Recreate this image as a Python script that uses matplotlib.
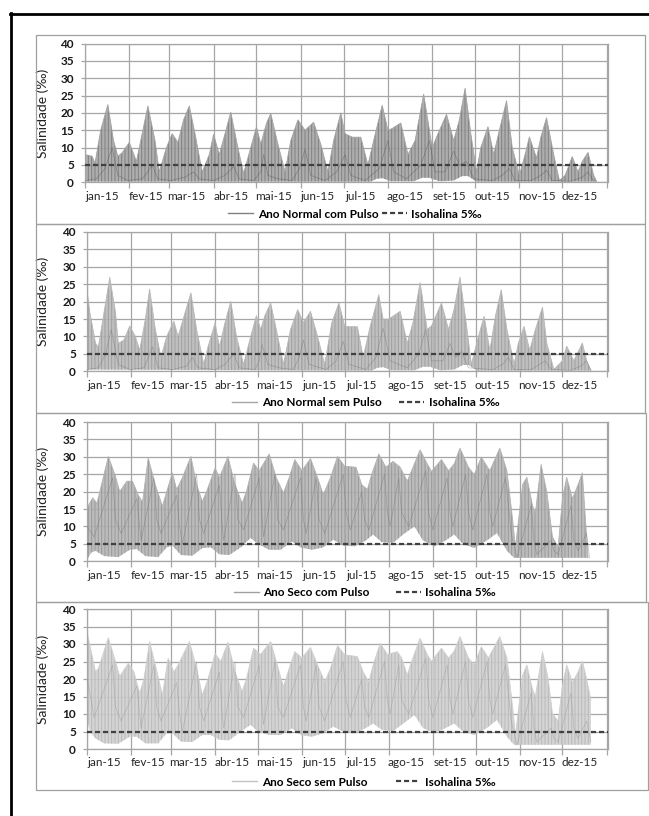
import numpy as np
import matplotlib
matplotlib.use("Agg")
import matplotlib.pyplot as plt
from matplotlib.lines import Line2D
from matplotlib.patches import Rectangle

plt.rcParams['font.family'] = ['Lato', 'DejaVu Sans']
plt.rcParams['hatch.linewidth'] = 0.7

# ---- data (day of year, salinity) ----
month_start = [0, 31, 59, 90, 120, 151, 181, 212, 243, 273, 304, 334, 365]
month_labels = ['jan-15', 'fev-15', 'mar-15', 'abr-15', 'mai-15', 'jun-15',
                'jul-15', 'ago-15', 'set-15', 'out-15', 'nov-15', 'dez-15']
isohalina = 5

series_names = ['Ano Normal com Pulso', 'Ano Normal sem Pulso',
                'Ano Seco com Pulso', 'Ano Seco sem Pulso']

# upper envelope of the tidal signal
d1_hi = [0, 5, 7, 11, 16, 20, 23, 26, 31, 36, 39, 44, 49, 52, 57, 61, 65, 69, 73, 77,
         82, 87, 90, 94, 98, 102, 107, 111, 116, 120, 123, 127, 130, 135, 140, 144, 149, 154, 160, 165,
         170, 174, 179, 182, 187, 193, 198, 202, 208, 212, 215, 221, 226, 231, 237, 243, 246, 253, 258, 262,
         266, 270, 274, 277, 282, 286, 290, 295, 299, 304, 308, 311, 316, 319, 323, 328, 332, 336, 341, 345,
         348, 352, 356, 358]
v1_hi = [8, 7.5, 5.5, 15, 22.4, 12, 7.5, 8.5, 11.5, 6, 12, 22, 12, 3, 10, 14, 11.5, 18, 22, 14,
         3, 8, 13.8, 8, 14, 20.2, 10, 2.5, 10, 16, 11, 17, 19.8, 11, 3, 12, 18, 15, 17.3, 11,
         3, 12, 20, 14, 13, 13, 5, 12, 22.2, 15, 15.5, 17.1, 8, 12, 25.4, 10, 13, 19.6, 12, 18,
         27.1, 14, 3, 10, 16, 8, 15, 23.5, 10, 2, 8, 13.1, 7, 13, 18.6, 8, 0.5, 2, 7.4, 3,
         6, 8.6, 2, 0.3]
d1_lo = [0, 200, 204, 208, 214, 230, 236, 241, 248, 258, 264, 268, 274, 358]
v1_lo = [0.2, 0.2, 1.0, 1.2, 0.3, 0.3, 1.3, 1.3, 0.3, 0.5, 1.8, 1.8, 0.2, 0.2]
d1_in = [0, 8, 14, 19, 23, 30, 40, 44, 47, 51, 60, 70, 76, 80, 90, 98, 104, 108, 118, 123,
         125, 128, 135, 145, 150, 154, 158, 168, 176, 182, 186, 196, 206, 212, 216, 225, 235, 241, 245, 252,
         258, 262, 267, 272, 285, 292, 297, 301, 312, 319, 323, 327, 340, 348, 352, 356]
v1_in = [0.5, 1, 4, 10, 2, 0.5, 1, 3, 5, 1, 0.5, 1.5, 3, 1, 0.5, 2, 4.5, 1, 0.5, 3,
         8, 2, 1, 0.5, 4, 9.5, 2, 0.5, 3, 8, 2, 0.5, 4, 12, 3, 1, 5, 12, 3, 3,
         9, 5, 6, 1, 0.5, 2, 4, 0.5, 0.5, 2, 3.5, 0.5, 0.3, 1.5, 3, 0.3]

d2_hi = [0, 2, 6, 8, 12, 16, 20, 22, 26, 30, 34, 37, 41, 44, 48, 52, 56, 61, 64, 69,
         73, 77, 82, 85, 90, 93, 97, 101, 105, 110, 115, 119, 122, 125, 129, 133, 138, 143, 148, 152,
         157, 162, 167, 172, 177, 181, 184, 190, 194, 199, 205, 208, 212, 220, 225, 229, 234, 239, 242, 249,
         254, 258, 262, 267, 270, 275, 279, 283, 287, 291, 295, 300, 303, 307, 311, 315, 320, 323, 328, 334,
         337, 342, 348, 351, 354]
v2_hi = [23.4, 17, 8, 7, 17, 27, 17, 8, 9, 13, 10, 6, 15, 23.6, 12, 4, 10, 14.4, 10, 17,
         22.5, 12, 2, 7, 13.9, 7, 14, 20.1, 10, 2, 10, 16, 12, 16, 19.6, 12, 2, 12, 17.7, 14,
         17.2, 10, 2, 14, 19.6, 13, 12.8, 12.8, 4, 13, 22, 15, 15, 17.2, 8, 14, 25.5, 12, 13, 19.6,
         12, 18, 27, 12, 2, 10, 15.8, 6, 16, 23.4, 12, 2, 8, 12.9, 6, 12, 18.4, 8, 0.5, 3,
         7.2, 3, 8.1, 3, 0.3]
d2_lo = [0, 200, 204, 208, 214, 230, 236, 241, 248, 258, 264, 268, 274, 354]
v2_lo = [0.5, 0.2, 1.0, 1.2, 0.3, 0.3, 1.3, 1.3, 0.3, 0.5, 1.8, 1.8, 0.2, 0.2]
d2_in = [0, 8, 13, 17, 22, 30, 40, 43, 46, 50, 60, 70, 74, 78, 90, 97, 103, 107, 118, 121,
         123, 127, 135, 145, 149, 152, 156, 168, 175, 180, 184, 196, 203, 208, 213, 225, 233, 238, 242, 250,
         255, 259, 263, 268, 285, 292, 296, 300, 312, 318, 322, 326, 340, 347, 351, 354]
v2_in = [0.5, 1, 5, 12, 2, 0.5, 1, 4, 7, 1, 0.5, 1.5, 4, 1, 0.5, 2, 5, 1, 0.5, 3,
         7.7, 2, 1, 0.5, 4, 9, 2, 0.5, 3, 8.6, 2, 0.5, 4, 12.4, 3, 1, 5, 12, 3, 3,
         8, 4, 5.7, 1, 0.5, 2, 4, 0.5, 0.5, 2, 3, 0.5, 0.3, 1.5, 3, 0.3]

d3_hi = [0, 4, 7, 9, 15, 20, 23, 28, 32, 36, 39, 43, 48, 53, 56, 60, 63, 67, 73, 77,
         81, 84, 90, 93, 99, 104, 109, 112, 117, 121, 128, 133, 138, 142, 146, 151, 157, 162, 166, 171,
         176, 181, 189, 193, 197, 200, 205, 210, 215, 220, 225, 228, 234, 239, 242, 249, 254, 258, 262, 268,
         272, 277, 283, 290, 295, 299, 301, 306, 309, 313, 315, 319, 323, 327, 331, 334, 337, 341, 345, 348,
         350, 352]
v3_hi = [15.3, 18.2, 16.7, 20, 30.1, 24.4, 20, 23, 23, 19, 17, 29.7, 22, 15.8, 20, 25.4, 20.6, 24, 30.1, 22,
         17.2, 20, 26.8, 24, 30.1, 22, 16.7, 20, 28.2, 26, 30.8, 24, 19.6, 24, 29.2, 26, 29.5, 24, 19.1, 24,
         30.1, 27.3, 27, 22, 20.6, 25, 30.8, 27, 28.7, 27, 23, 26, 32, 28, 25.8, 29.2, 26, 28, 32.5, 27,
         24.9, 29.9, 26, 32.5, 26, 12, 4, 22, 24.1, 16, 14, 27.8, 20, 7, 4, 18, 24.1, 18, 22, 25.4,
         13, 1]
d3_lo = [0, 3, 6, 12, 22, 30, 35, 41, 50, 56, 60, 66, 74, 81, 87, 93, 100, 108, 115, 120,
         128, 136, 144, 150, 158, 166, 173, 180, 188, 196, 201, 207, 215, 223, 230, 236, 244, 252, 258, 264,
         272, 281, 288, 295, 300, 352]
v3_lo = [0.5, 2.5, 3, 1.5, 1.2, 3.3, 3.5, 1.5, 1.2, 4, 4.5, 1.8, 1.6, 3.8, 4, 2, 1.8, 4, 6.7, 5,
         3.3, 3.3, 5.7, 4, 3.3, 4, 6.2, 4.5, 4.3, 6, 7.7, 5.5, 5.3, 8, 10, 6, 4.3, 6, 7.7, 5,
         3.8, 6, 8.1, 3, 1, 1]
d3_in = [0, 5, 18, 20, 24, 35, 37, 38, 47, 49, 52, 63, 65, 67, 77, 79, 82, 93, 95, 96,
         104, 106, 110, 121, 123, 124, 132, 134, 138, 150, 152, 154, 161, 163, 167, 180, 182, 185, 193, 195,
         198, 209, 211, 213, 219, 221, 226, 238, 240, 243, 253, 255, 257, 266, 268, 271, 281, 283, 285, 294,
         298, 302, 312, 314, 316, 326, 328, 331, 340, 342, 345, 351, 353]
v3_in = [10, 7, 24, 12, 8, 18, 10, 6, 24, 12, 8, 19, 10, 5, 25, 12, 8, 22, 10, 6,
         25, 12, 9, 24, 12, 7, 25, 12, 9, 24, 12, 8, 24, 12, 8, 25, 14, 9, 20, 12,
         9, 25, 14, 10, 24, 14, 10, 26, 14, 9, 24, 14, 10, 25, 14, 9, 25, 14, 10, 24,
         8, 1, 16, 6, 2, 6, 3, 2, 16, 6, 3, 8, 1]

d4_hi = [0, 2, 6, 8, 15, 20, 23, 29, 33, 37, 40, 44, 48, 53, 57, 61, 64, 72, 77, 81,
         85, 90, 94, 99, 104, 109, 112, 117, 122, 129, 133, 138, 142, 146, 151, 157, 163, 167, 171, 176,
         181, 190, 194, 198, 201, 206, 211, 218, 221, 225, 228, 234, 239, 242, 249, 254, 258, 262, 268, 272,
         277, 282, 290, 295, 299, 301, 306, 309, 313, 315, 320, 324, 327, 331, 334, 337, 341, 345, 348, 351,
         354]
v4_hi = [33.5, 29.7, 22, 23, 31.8, 25, 20.7, 24.5, 22, 15.9, 20, 30.7, 24, 15.4, 25.9, 22, 24, 30.7, 23, 15.4,
         20, 27.3, 25, 30.5, 22, 16.4, 20, 28.8, 27, 30.7, 25, 17.8, 23, 27.8, 26, 29, 23, 19.2, 23, 29.5,
         26.9, 26.4, 22, 19.2, 24, 30.2, 27, 27.8, 26, 21.1, 25, 31.6, 27, 25, 28.8, 26, 28, 32.1, 26, 24,
         29.2, 26, 32.1, 26, 12, 4, 21, 24, 17, 15, 27.8, 20, 10, 8, 18, 24, 19, 22, 25.1, 20,
         14]
d4_lo = [0, 2, 6, 12, 22, 30, 35, 41, 50, 56, 60, 66, 74, 81, 87, 93, 100, 108, 115, 120,
         128, 136, 144, 150, 158, 166, 173, 180, 188, 196, 201, 207, 215, 223, 230, 236, 244, 252, 258, 264,
         272, 281, 288, 295, 300, 354]
v4_lo = [9, 5, 3, 1.6, 1.5, 3.5, 3.5, 1.6, 1.6, 4.5, 4.5, 2.1, 2, 4, 4, 2.6, 2.5, 5, 6.9, 5,
         4, 4, 5.9, 4, 3.5, 4.5, 6.4, 5, 4.5, 6, 7.3, 5.5, 5.1, 7.5, 9.7, 6, 4.5, 6, 7.3, 5,
         4, 6, 8.3, 3.5, 1.2, 1.2]
d4_in = [0, 3, 5, 18, 20, 24, 35, 37, 38, 47, 49, 52, 63, 65, 67, 77, 79, 82, 93, 95,
         96, 104, 106, 110, 121, 123, 124, 132, 134, 138, 150, 152, 154, 161, 163, 167, 180, 182, 185, 193,
         195, 198, 209, 211, 213, 219, 221, 226, 238, 240, 243, 253, 255, 257, 266, 268, 271, 281, 283, 285,
         294, 298, 302, 312, 314, 316, 326, 328, 331, 340, 342, 345, 351, 354]
v4_in = [20, 14, 9, 24, 12, 8, 18, 10, 6, 24, 12, 8, 19, 10, 5, 25, 12, 8, 22, 10,
         6, 25, 12, 9, 24, 12, 7, 25, 12, 9, 24, 12, 8, 24, 12, 8, 25, 14, 9, 20,
         12, 9, 25, 14, 10, 24, 14, 10, 26, 14, 9, 24, 14, 10, 25, 14, 9, 25, 14, 10,
         24, 8, 1, 16, 6, 2, 6, 3, 2, 16, 6, 3, 8, 2]

# ---- layout, in reference pixels ----
W, H = 649, 816
fig = plt.figure(figsize=(W / 100, H / 100), dpi=100)


def fx(x):
    return x / W


def fy(y):
    return 1 - y / H


# (left, top, right, bottom) of plot areas, outer chart boxes, legend centre, column gap
plot_px = [(85, 43.5, 608, 182.3), (87, 232, 608, 371.3), (87, 422, 608, 561.3), (87, 609, 608, 749)]
box_px = [(36, 35, 645, 224), (36, 224, 645, 413), (36, 413, 646, 602), (36, 602, 648, 790)]
legend_px = [(355, 214), (366, 403), (365, 593), (364, 782)]
col_gap = [0.3, 1.5, 2.2, 2.4]

fills = ['#a3a3a3', '#b8b8b8', '#b3b3b3', '#cfcfcf']
hatches = ['#7a7a7a', '#9b9b9b', '#959595', '#b6b6b6']
inners = ['#4d4d4d', '#6e6e6e', '#6e6e6e', '#8f8f8f']
legend_cols = ['#808080', '#a6a6a6', '#a0a0a0', '#c4c4c4']
grid_col = '#a6a6a6'
dash_col = '#404040'

panels = [(d1_hi, v1_hi, d1_lo, v1_lo, d1_in, v1_in),
          (d2_hi, v2_hi, d2_lo, v2_lo, d2_in, v2_in),
          (d3_hi, v3_hi, d3_lo, v3_lo, d3_in, v3_in),
          (d4_hi, v4_hi, d4_lo, v4_lo, d4_in, v4_in)]

for i, (dh, vh, dl, vl, di, vi) in enumerate(panels):
    l, t, r, b = plot_px[i]
    ax = fig.add_axes([fx(l), fy(b), fx(r) - fx(l), fy(t) - fy(b)])

    # chart box
    bl, bt, br, bb = box_px[i]
    fig.add_artist(Rectangle((fx(bl), fy(bb)), fx(br) - fx(bl), fy(bt) - fy(bb),
                             transform=fig.transFigure, fill=False, ec='#a0a0a0', lw=0.9))

    # tidal band: polygon between upper and lower envelope, striated
    px = np.concatenate([dh, dl[::-1]])
    py = np.concatenate([vh, vl[::-1]])
    ax.fill(px, py, facecolor=fills[i], edgecolor=hatches[i], hatch='|||||',
            linewidth=0, alpha=0.88, zorder=2)
    ax.plot(dh, vh, color=fills[i], lw=0.6, zorder=2)
    ax.plot(di, vi, color=inners[i], lw=0.5, alpha=0.45, zorder=3)

    ax.axhline(isohalina, color=dash_col, lw=1.6, dashes=(2.3, 1.3), zorder=4)

    ax.set_xlim(0, 366)
    ax.set_ylim(0, 40)
    ax.set_xticks(month_start)
    ax.set_xticklabels([])
    ax.set_xticks([m + 12 for m in month_start[:12]], minor=True)
    ax.set_xticklabels(month_labels, minor=True)
    ax.tick_params(axis='x', which='major', length=4, color=grid_col, width=0.9)
    ax.tick_params(axis='x', which='minor', length=0, pad=6, labelsize=8.5, labelcolor='#262626')
    ax.set_yticks(range(0, 41, 5))
    ax.tick_params(axis='y', length=3, color=grid_col, width=0.9, pad=5,
                   labelsize=8.5, labelcolor='#1a1a1a')
    for lab in ax.get_yticklabels():
        lab.set_fontweight('bold')
    ax.grid(True, which='major', color=grid_col, lw=0.9)
    ax.set_axisbelow(True)
    for sp in ax.spines.values():
        sp.set_color(grid_col)
        sp.set_linewidth(0.9)

    ax.set_ylabel('Salinidade (‰)', fontsize=10, color='#222222')
    ax.yaxis.set_label_coords((49 - l) / (r - l), 0.5)

    handles = [Line2D([], [], color=legend_cols[i], lw=1.0),
               Line2D([], [], color=dash_col, lw=1.6, dashes=(2.3, 1.3))]
    lx, ly = legend_px[i]
    ax.legend(handles, [series_names[i], 'Isohalina 5‰'], ncol=2, loc='center',
              bbox_to_anchor=(fx(lx), fy(ly)), bbox_transform=fig.transFigure,
              frameon=False, prop={'weight': 'bold', 'size': 8.5},
              handlelength=2.1, handletextpad=0.4, columnspacing=col_gap[i],
              borderpad=0, borderaxespad=0)

# outer page frame
fig.add_artist(Line2D([fx(10), 1], [fy(14), fy(14)], color='black', lw=2))
fig.add_artist(Line2D([fx(11), fx(11)], [fy(13), 0], color='black', lw=2))

fig.savefig('out.png', dpi=100)
